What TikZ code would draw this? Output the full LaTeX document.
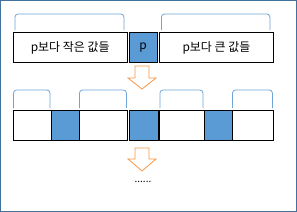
\documentclass[tikz,border=0pt]{standalone}
\usepackage{fontspec}
\newfontfamily\kr{Noto Sans CJK KR}
\usetikzlibrary{calc,positioning}
\definecolor{pblue}{HTML}{5B9BD5}
\definecolor{bblue}{HTML}{6FA4D8}
\definecolor{fblue}{HTML}{41719C}
\definecolor{aorange}{HTML}{F79646}

\begin{document}
\begin{tikzpicture}[
  x=1bp, y=-1bp,
  cell/.style={
    draw=black,
    line width=0.9bp,
    inner sep=0pt,
    minimum height=30bp,
    anchor=north west,
    font=\kr\fontsize{12}{14}\selectfont
  },
  pivot/.style={
    cell,
    fill=pblue
  },
  brace/.style={
    draw=bblue,
    line width=0.8bp,
    rounded corners=3bp
  },
  down/.style={
    draw=aorange,
    line width=0.8bp,
    fill=white
  }
]

% Frame
\useasboundingbox (0,0) rectangle (297,212);
\draw[fblue, line width=1bp] (0.5,0.5) rectangle (296.3,211.5);

% First split
\node[cell, minimum width=114.5bp] (small) at (12.5,32) {p보다 작은 값들};
\node[pivot, minimum width=28.5bp] (p) at (128.5,32) {p};
\node[cell, minimum width=114bp] (large) at (159,32) {p보다 큰 값들};

\foreach \part in {small,large}
  \draw[brace]
    ($(\part.north west)+(2.5,-2)$) -- ($(\part.north west)+(2.5,-18)$)
    -- ($(\part.north east)+(-4,-18)$) -- ($(\part.north east)+(-4,-2)$);

% Arrow down
\draw[down] (135,66) -- (149,66) -- (149,78) -- (156,78) -- (142,89)
  -- (128,78) -- (135,78) -- cycle;

% Second split
\node[cell, minimum width=38bp] (a1) at (12.5,110) {};
\node[pivot, minimum width=28bp] (a2) at (50.5,110) {};
\node[cell, minimum width=48.5bp] (a3) at (78.5,110) {};
\node[pivot, minimum width=29bp] (a4) at (128.5,110) {};
\node[cell, minimum width=44.5bp] (a5) at (159,110) {};
\node[pivot, minimum width=28bp] (a6) at (203.5,110) {};
\node[cell, minimum width=41.5bp] (a7) at (231.5,110) {};

\foreach \part in {a1,a3,a5,a7}
  \draw[brace]
    ($(\part.north west)+(1,-2)$) -- ($(\part.north west)+(1,-20)$)
    -- ($(\part.north east)+(-1.5,-20)$) -- ($(\part.north east)+(-1.5,-2)$);

% Arrow down
\draw[down] (135,148) -- (149,148) -- (149,159) -- (156,159) -- (142,171)
  -- (128,159) -- (135,159) -- cycle;

\node[font=\kr\fontsize{10}{12}\selectfont] (dots) at (143,182) {......};

\end{tikzpicture}
\end{document}
